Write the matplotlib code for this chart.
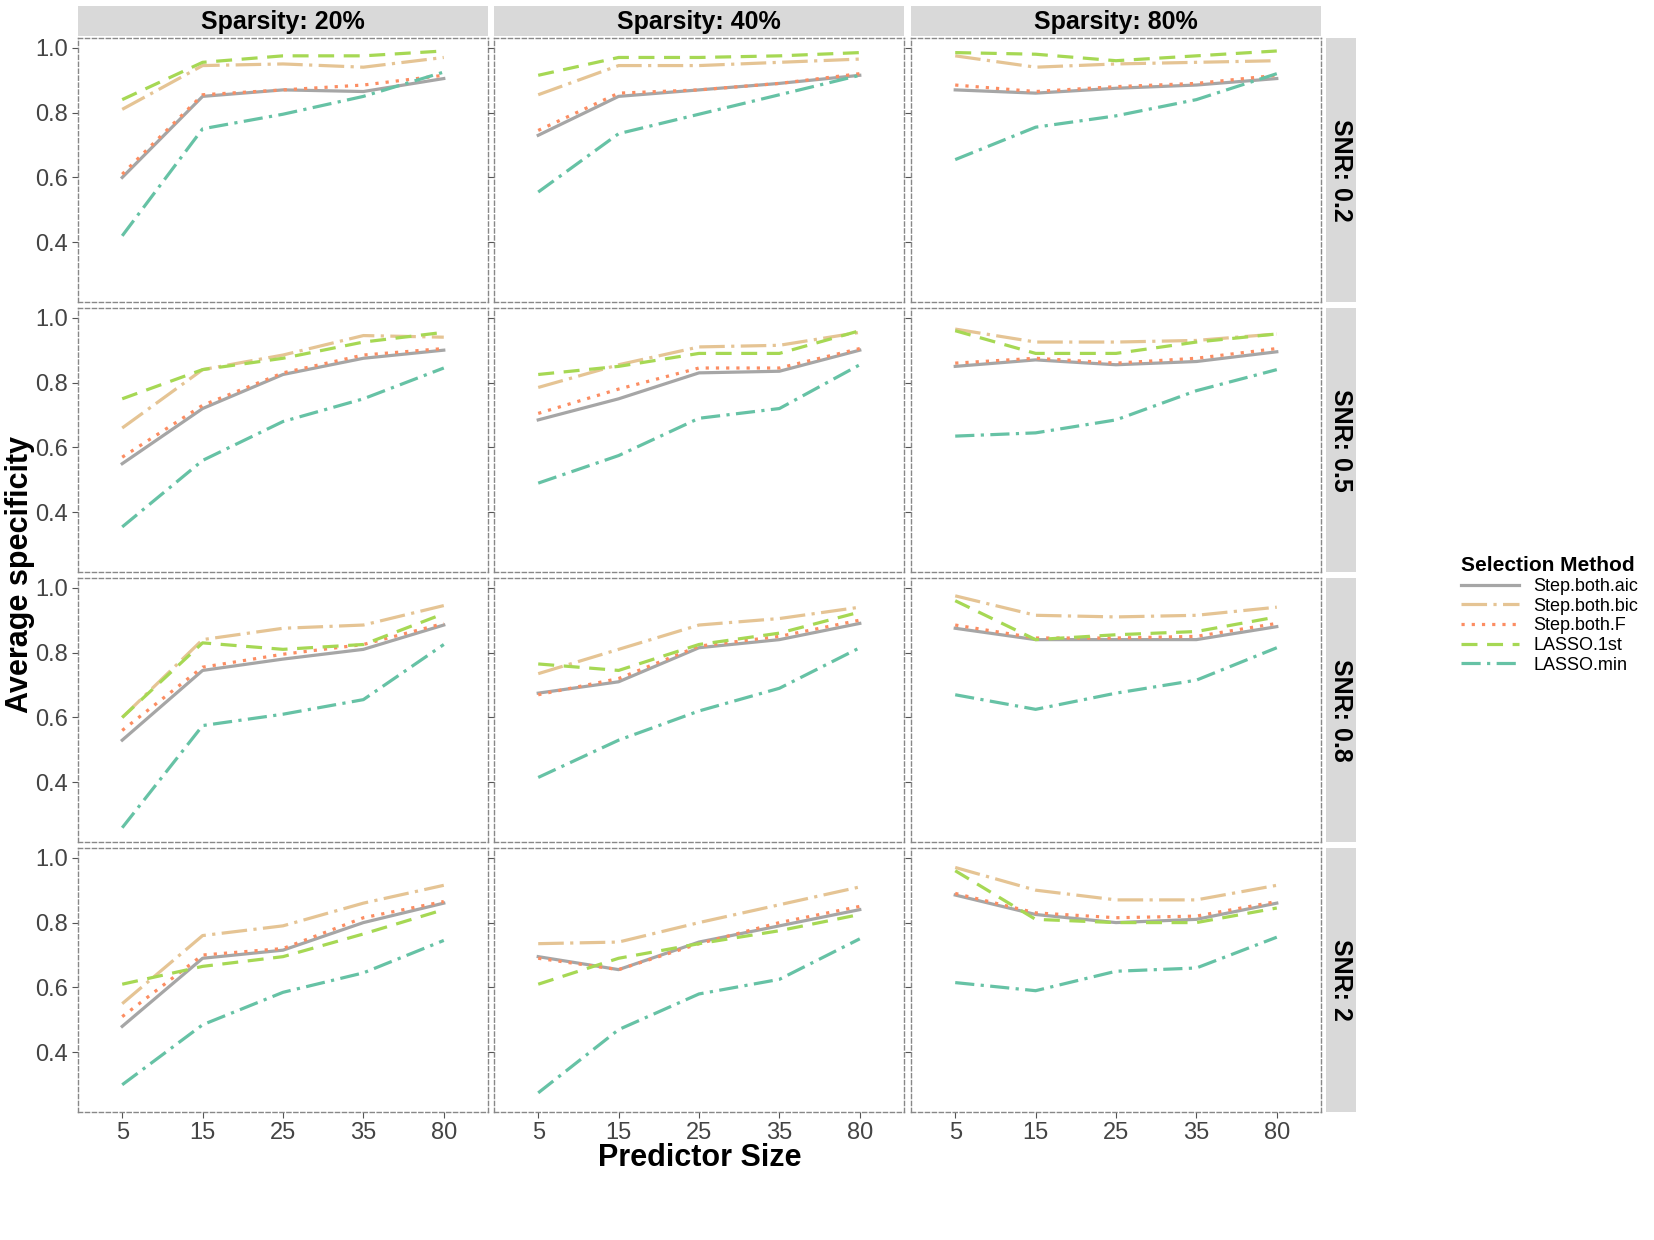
import matplotlib
matplotlib.use("Agg")
import matplotlib.pyplot as plt

sizes = ["5", "15", "25", "35", "80"]
sparsity = ["Sparsity: 20%", "Sparsity: 40%", "Sparsity: 80%"]
snr = ["SNR: 0.2", "SNR: 0.5", "SNR: 0.8", "SNR: 2"]
methods = ["Step.both.aic", "Step.both.bic", "Step.both.F", "LASSO.1st", "LASSO.min"]
colors = ["#A6A6A6", "#E5C494", "#FC8D62", "#A6D854", "#66C2A5"]
styles = ["-", (0, (8, 2, 1, 2)), (0, (1, 2.2)), (0, (5, 3)), (0, (6, 2, 1, 2))]

# data[row][col][method]
data = [
 [
  [[.60,.85,.87,.865,.905],[.81,.945,.95,.94,.97],[.61,.855,.87,.885,.915],[.84,.955,.975,.975,.99],[.42,.75,.795,.85,.925]],
  [[.73,.85,.87,.89,.915],[.855,.945,.945,.955,.965],[.745,.86,.87,.89,.92],[.915,.97,.97,.975,.985],[.555,.735,.795,.855,.915]],
  [[.87,.86,.875,.885,.905],[.975,.94,.95,.955,.96],[.885,.865,.88,.89,.915],[.985,.98,.96,.975,.99],[.655,.755,.79,.84,.92]],
 ],
 [
  [[.55,.72,.825,.875,.90],[.66,.84,.885,.945,.94],[.57,.73,.83,.885,.905],[.75,.84,.875,.925,.955],[.355,.56,.68,.75,.845]],
  [[.685,.75,.83,.835,.90],[.785,.855,.91,.915,.955],[.705,.78,.845,.845,.905],[.825,.85,.89,.89,.96],[.49,.575,.69,.72,.855]],
  [[.85,.87,.855,.865,.895],[.965,.925,.925,.93,.95],[.86,.875,.86,.875,.905],[.96,.89,.89,.925,.95],[.635,.645,.685,.775,.84]],
 ],
 [
  [[.53,.745,.78,.81,.885],[.60,.84,.875,.885,.945],[.56,.755,.795,.825,.89],[.60,.83,.81,.825,.92],[.26,.575,.61,.655,.825]],
  [[.675,.71,.815,.84,.89],[.735,.81,.885,.905,.94],[.67,.72,.82,.85,.90],[.765,.745,.825,.86,.925],[.415,.53,.62,.69,.815]],
  [[.875,.84,.84,.84,.88],[.975,.915,.91,.915,.94],[.885,.845,.845,.85,.89],[.96,.84,.855,.865,.91],[.67,.625,.675,.715,.815]],
 ],
 [
  [[.48,.69,.715,.80,.86],[.55,.76,.79,.86,.915],[.51,.70,.72,.815,.865],[.61,.665,.695,.765,.84],[.30,.485,.585,.645,.745]],
  [[.695,.655,.74,.79,.84],[.735,.74,.80,.855,.91],[.69,.655,.735,.80,.85],[.61,.69,.735,.775,.825],[.275,.47,.58,.625,.75]],
  [[.885,.825,.80,.81,.86],[.97,.90,.87,.87,.915],[.89,.83,.815,.82,.865],[.96,.81,.80,.80,.845],[.615,.59,.65,.66,.755]],
 ],
]

W, H = 1654, 1240
fig = plt.figure(figsize=(W/100, H/100), dpi=100)
plt.rcParams['font.family'] = ['Liberation Sans', 'DejaVu Sans']
colx = [78, 494, 911]; pw = 410
rowy = [38, 308, 578, 848]; ph = 264
x = list(range(len(sizes)))
for r in range(4):
    for c in range(3):
        ax = fig.add_axes([colx[c]/W, 1-(rowy[r]+ph)/H, pw/W, ph/H])
        for m in range(5):
            ax.plot(x, data[r][c][m], color=colors[m], linestyle=styles[m], lw=2.3, label=methods[m])
        ax.set_xlim(-0.55, 4.55); ax.set_ylim(0.216, 1.03)
        ax.set_yticks([0.4, 0.6, 0.8, 1.0])
        ax.set_xticks(x)
        for s in ax.spines.values():
            s.set_linestyle((0, (3, 2))); s.set_color("#888888"); s.set_linewidth(1)
        ax.tick_params(length=4, color="#555555", labelsize=17, labelcolor="#444444")
        if c == 0:
            ax.set_yticklabels(["0.4", "0.6", "0.8", "1.0"])
        else:
            ax.set_yticklabels([])
        if r == 3:
            ax.set_xticklabels(sizes)
        else:
            ax.set_xticklabels([]); ax.tick_params(axis='x', length=0)
        if r == 0:
            sa = fig.add_axes([colx[c]/W, 1-36/H, pw/W, 30/H])
            sa.set_facecolor("#D9D9D9"); sa.set_xticks([]); sa.set_yticks([])
            for s in sa.spines.values(): s.set_visible(False)
            sa.text(0.5, 0.45, sparsity[c], ha='center', va='center', fontsize=18, fontweight='bold', transform=sa.transAxes)
        if c == 2:
            sa = fig.add_axes([1326/W, 1-(rowy[r]+ph)/H, 30/W, ph/H])
            sa.set_facecolor("#D9D9D9"); sa.set_xticks([]); sa.set_yticks([])
            for s in sa.spines.values(): s.set_visible(False)
            sa.text(0.5, 0.5, snr[r], ha='center', va='center', rotation=-90, fontsize=18, fontweight='bold', transform=sa.transAxes)
        if r == 1 and c == 2:
            handles, labels = ax.get_legend_handles_labels()

fig.text(700/W, 1-1158/H, "Predictor Size", ha='center', va='center', fontsize=22, fontweight='bold')
fig.text(20/W, 1-575/H, "Average specificity", ha='center', va='center', rotation=90, fontsize=22, fontweight='bold')
leg = fig.legend(handles, labels, loc='upper left', bbox_to_anchor=(1445/W, 1-540/H), frameon=False,
                 title="Selection Method", fontsize=13, handlelength=3.2, labelspacing=0.15)
leg.get_title().set_fontweight('bold'); leg.get_title().set_fontsize(15)
leg._legend_box.align = "left"
fig.savefig("out.png", dpi=100)
